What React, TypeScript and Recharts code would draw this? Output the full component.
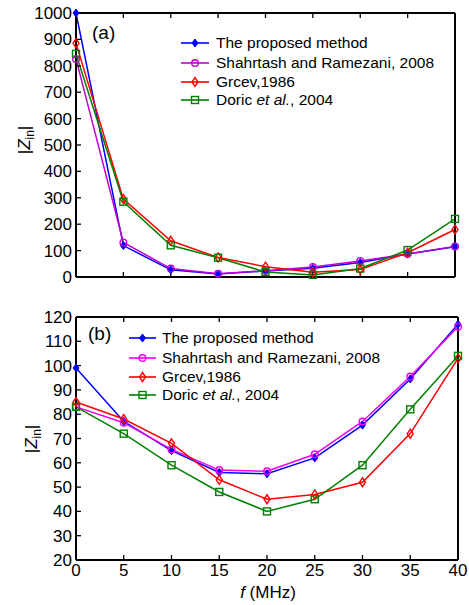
import React from 'react';
import { LineChart, Line, XAxis, YAxis } from 'recharts';

// frequency in MHz
const freq = [0, 5, 10, 15, 20, 25, 30, 35, 40];

// panel (a)
const proposedA = [1000, 119, 27, 11, 23, 33, 55, 87, 115];
const shahrtashA = [826, 131, 32, 12, 24, 38, 61, 87, 116];
const grcevA = [885, 295, 137, 74, 39, 18, 28, 92, 180];
const doricA = [845, 285, 120, 73, 19, 8, 32, 102, 220];

// panel (b)
const proposedB = [99, 77, 65, 56, 55.5, 62, 75.5, 94.5, 117];
const shahrtashB = [83, 76.5, 65.5, 57, 56.5, 63.5, 77, 95.5, 116];
const grcevB = [85, 78, 68, 53, 45, 47, 52, 72, 103];
const doricB = [83, 72, 59, 48, 40, 45, 59, 82, 104];

const xTicks = [0, 5, 10, 15, 20, 25, 30, 35, 40];
const yTicksA = [0, 100, 200, 300, 400, 500, 600, 700, 800, 900, 1000];
const yTicksB = [20, 30, 40, 50, 60, 70, 80, 90, 100, 110, 120];

const seriesNames = ['The proposed method', 'Shahrtash and Ramezani, 2008', 'Grcev,1986', 'Doric et al., 2004'];
const markers = ['diamondFilled', 'circle', 'diamond', 'square'];

const FONT = "'Liberation Sans', Arial, sans-serif";
const keys = ['p', 's', 'g', 'd'];

function buildRows(a: number[], b: number[], c: number[], d: number[]) {
  return freq.map((f, i) => ({ f, p: a[i], s: b[i], g: c[i], d: d[i] }));
}

function Marker({ type, cx, cy, color }: { type: string; cx: number; cy: number; color: string }) {
  if (cx == null || cy == null) return null;
  if (type === 'diamondFilled') {
    return <polygon points={`${cx},${cy - 4} ${cx + 3},${cy} ${cx},${cy + 4} ${cx - 3},${cy}`} fill={color} stroke={color} strokeWidth={1} />;
  }
  if (type === 'circle') {
    return <circle cx={cx} cy={cy} r={3.3} fill="none" stroke={color} strokeWidth={1.4} />;
  }
  if (type === 'diamond') {
    return <polygon points={`${cx},${cy - 4.5} ${cx + 3},${cy} ${cx},${cy + 4.5} ${cx - 3},${cy}`} fill="none" stroke={color} strokeWidth={1.4} />;
  }
  return <rect x={cx - 3.5} y={cy - 3.5} width={7} height={7} fill="none" stroke={color} strokeWidth={1.4} />;
}

function LegendBox({ left, lineW, textLeft, centers, colors }: { left: number; lineW: number; textLeft: number; centers: number[]; colors: string[] }) {
  return (
    <>
      {seriesNames.map((name, i) => (
        <div key={name} style={{ position: 'absolute', left, top: centers[i] - 10, height: 20, display: 'flex', alignItems: 'center', fontFamily: FONT, fontSize: 15.5, color: '#000', whiteSpace: 'nowrap' }}>
          <svg width={lineW + 2} height={12} style={{ marginRight: textLeft - left - lineW - 2 }}>
            <line x1={1} y1={6} x2={lineW + 1} y2={6} stroke={colors[i]} strokeWidth={1.6} />
            <Marker type={markers[i]} cx={lineW / 2 + 1} cy={6} color={colors[i]} />
          </svg>
          {i === 3 ? (
            <span>Doric <i>et al.</i>, 2004</span>
          ) : (
            <span>{name}</span>
          )}
        </div>
      ))}
    </>
  );
}

function Panel(props: {
  data: any[];
  height: number;
  margin: any;
  domain: number[];
  yTicks: number[];
  colors: string[];
  showX: boolean;
  yLabel: { x: number; y: number };
}) {
  const { data, height, margin, domain, yTicks, colors, showX, yLabel } = props;
  const tickStyle = { fontSize: 17, fill: '#000', fontFamily: FONT };
  const axisLine = { stroke: '#000', strokeWidth: 2 };
  return (
    <LineChart width={469} height={height} data={data} margin={margin}>
      <XAxis
        dataKey="f"
        type="number"
        domain={[0, 40]}
        ticks={xTicks}
        tickSize={-5}
        tickMargin={showX ? 9 : 0}
        height={showX ? 30 : 10}
        axisLine={axisLine}
        tickLine={{ stroke: '#000', strokeWidth: 1.3 }}
        tick={tickStyle}
        tickFormatter={showX ? undefined : () => ''}
        interval={0}
        label={
          showX
            ? {
                content: () => (
                  <text x={268} y={308} textAnchor="middle" fontSize={17} fontFamily={FONT} fill="#000">
                    <tspan fontStyle="italic">f</tspan> (MHz)
                  </text>
                ),
              }
            : undefined
        }
      />
      <XAxis xAxisId="top" orientation="top" dataKey="f" type="number" domain={[0, 40]} ticks={xTicks} tickSize={-5} height={1} axisLine={axisLine} tickLine={{ stroke: '#000', strokeWidth: 1.3 }} tickFormatter={() => ''} interval={0} />
      <YAxis
        type="number"
        domain={domain}
        ticks={yTicks}
        tickSize={-5}
        tickMargin={9}
        width={60}
        axisLine={axisLine}
        tickLine={{ stroke: '#000', strokeWidth: 1.3 }}
        tick={tickStyle}
        interval={0}
        label={{
          content: () => (
            <text transform={`translate(${yLabel.x},${yLabel.y}) rotate(-90)`} textAnchor="middle" fontSize={17} fontFamily={FONT} fill="#000">
              |<tspan fontStyle="italic">Z</tspan>
              <tspan dy={4} fontSize={12}>in</tspan>
              <tspan dy={-4}>|</tspan>
            </text>
          ),
        }}
      />
      <YAxis yAxisId="right" orientation="right" type="number" domain={domain} ticks={yTicks} tickSize={-5} width={1} axisLine={axisLine} tickLine={{ stroke: '#000', strokeWidth: 1.3 }} tickFormatter={() => ''} interval={0} />
      {keys.map((k, i) => (
        <Line
          key={k}
          dataKey={k}
          stroke={colors[i]}
          strokeWidth={1.5}
          isAnimationActive={false}
          dot={(p: any) => (
            <g key={`${k}-${p.index}`}>
              <Marker type={markers[i]} cx={p.cx} cy={p.cy} color={colors[i]} />
            </g>
          )}
          activeDot={false}
        />
      ))}
    </LineChart>
  );
}

export default function App() {
  const dataA = buildRows(proposedA, shahrtashA, grcevA, doricA);
  const dataB = buildRows(proposedB, shahrtashB, grcevB, doricB);
  const colorsA = ['#0000ff', '#c000d0', '#ff0000', '#008000'];
  const colorsB = ['#0000ff', '#f000f0', '#ff0000', '#008000'];
  const label = { position: 'absolute' as const, fontFamily: FONT, fontSize: 19, color: '#000' };
  return (
    <div style={{ position: 'absolute', left: 0, top: 0, width: 469, height: 605, background: '#fff', overflow: 'hidden' }}>
      <div style={{ position: 'absolute', left: 0, top: 0 }}>
        <Panel
          data={dataA}
          height={290}
          margin={{ top: 12, right: 13, bottom: 3, left: 16 }}
          domain={[0, 1000]}
          yTicks={yTicksA}
          colors={colorsA}
          showX={false}
          yLabel={{ x: 30, y: 140 }}
        />
      </div>
      <div style={{ position: 'absolute', left: 0, top: 290 }}>
        <Panel
          data={dataB}
          height={315}
          margin={{ top: 26, right: 10, bottom: 15, left: 16 }}
          domain={[20, 120]}
          yTicks={yTicksB}
          colors={colorsB}
          showX={true}
          yLabel={{ x: 37, y: 149 }}
        />
      </div>
      <div style={{ ...label, left: 92, top: 22 }}>(a)</div>
      <div style={{ ...label, left: 88, top: 323 }}>(b)</div>
      <LegendBox left={180} lineW={28} textLeft={216} centers={[43, 62.5, 81.5, 100]} colors={colorsA} />
      <LegendBox left={128} lineW={27} textLeft={162} centers={[338, 357.5, 376.5, 395]} colors={colorsB} />
    </div>
  );
}
